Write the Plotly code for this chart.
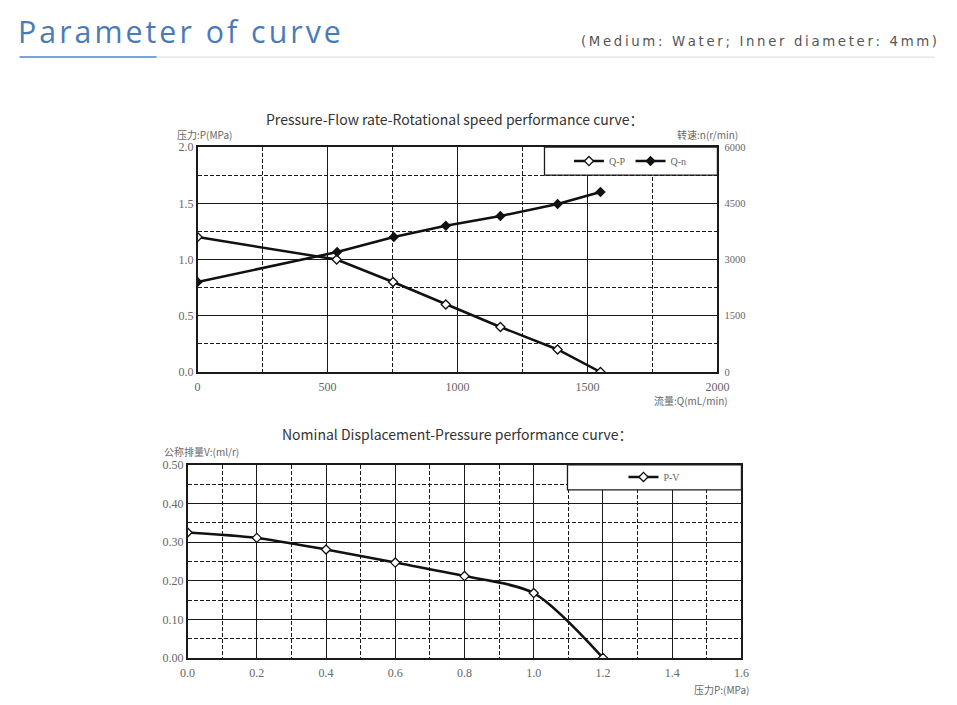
import plotly.graph_objects as go

# ---------------- data ----------------
flow_qp = [0, 535, 752, 955, 1165, 1385, 1550]
pressure_qp = [1.2, 1.0, 0.8, 0.6, 0.4, 0.2, 0.0]

flow_qn = [0, 537, 755, 955, 1165, 1385, 1550]
speed_qn = [2400, 3200, 3600, 3900, 4160, 4480, 4800]

pv_pressure = [0.0, 0.2, 0.4, 0.6, 0.8, 1.0, 1.2]
pv_disp = [0.325, 0.311, 0.281, 0.247, 0.212, 0.168, 0.0]

# page has an 8px body margin, so the figure is 941x689
OFF = 8
W, H = 957 - 2 * OFF, 705 - 2 * OFF
# the captured picture comes out slightly shrunk about its centre; compensate
S = 0.98
CX, CY = 478.5, 352.5
DX = 2


def px(x):
    local = CX + (x + DX - CX) / S - OFF
    return local / W


def py(y):
    local = CY + (y - CY) / S - OFF
    return 1 - local / H


GRID = "#1a1a1a"
DASH = "4px,2px"
TICK_FONT = dict(family="Liberation Serif", size=12, color="#666")
CJK = "Noto Sans CJK SC"

fig = go.Figure()

# top chart traces
fig.add_trace(go.Scatter(
    x=flow_qp, y=pressure_qp, name="Q-P", mode="lines+markers",
    line=dict(color="#111", width=2.5),
    marker=dict(symbol="diamond", size=7, color="white", line=dict(color="#111", width=1.3)),
    xaxis="x", yaxis="y", legend="legend"))
fig.add_trace(go.Scatter(
    x=flow_qn, y=speed_qn, name="Q-n", mode="lines+markers",
    line=dict(color="#111", width=2.5),
    marker=dict(symbol="diamond", size=8, color="#111"),
    xaxis="x", yaxis="y3", legend="legend"))

# bottom chart trace
fig.add_trace(go.Scatter(
    x=pv_pressure, y=pv_disp, name="P-V", mode="lines+markers",
    line=dict(color="#111", width=2.5, shape="spline", smoothing=0.8),
    marker=dict(symbol="diamond", size=7, color="white", line=dict(color="#111", width=1.3)),
    xaxis="x2", yaxis="y2", legend="legend2"))

common_axis = dict(showline=True, mirror=True, linecolor=GRID, linewidth=1.5,
                   showgrid=True, gridcolor=GRID, gridwidth=1.2, zeroline=False,
                   tickfont=TICK_FONT, fixedrange=True)
x_ticks = dict(ticks="outside", ticklen=3, tickcolor="rgba(0,0,0,0)")
y_ticks = dict(ticks="")
minor_grid = dict(showgrid=True, griddash=DASH, gridcolor=GRID, gridwidth=1, ticks="")

fig.update_layout(
    width=W, height=H,
    margin=dict(l=0, r=0, t=0, b=0),
    paper_bgcolor="white", plot_bgcolor="white",
    xaxis=dict(domain=[px(198), px(718)], range=[0, 2000], dtick=500, anchor="y",
               minor=dict(dtick=250, **minor_grid), **common_axis, **x_ticks),
    yaxis=dict(domain=[py(372), py(147)], range=[0, 2.0], dtick=0.5, tickformat=".1f", anchor="x",
               minor=dict(dtick=0.25, **minor_grid), **common_axis, **y_ticks),
    yaxis3=dict(overlaying="y", side="right", range=[0, 6000], dtick=1500, anchor="x",
                showgrid=False, zeroline=False, showline=False,
                ticks="outside", ticklen=4, tickcolor="rgba(0,0,0,0)",
                tickfont=dict(family="Liberation Serif", size=10.5, color="#666"), fixedrange=True),
    xaxis2=dict(domain=[px(188), px(742)], range=[0, 1.6], dtick=0.2, tickformat=".1f", anchor="y2",
                minor=dict(dtick=0.1, **minor_grid), **common_axis, **x_ticks),
    yaxis2=dict(domain=[py(658), py(465)], range=[0, 0.5], dtick=0.1, tickformat=".2f", anchor="x2",
                minor=dict(dtick=0.05, **minor_grid), **common_axis, **y_ticks),
    legend=dict(x=px(631), y=py(161), xanchor="center", yanchor="middle", orientation="h",
                bgcolor="rgba(0,0,0,0)", font=dict(family="Liberation Serif", size=10, color="#666"),
                itemwidth=30, tracegroupgap=0),
    legend2=dict(x=px(655), y=py(477), xanchor="center", yanchor="middle", orientation="h",
                 bgcolor="rgba(0,0,0,0)", font=dict(family="Liberation Serif", size=10, color="#666"),
                 itemwidth=30),
    showlegend=True,
)

# legend boxes (white panels over the grid)
fig.add_shape(type="rect", xref="paper", yref="paper", x0=px(545), x1=px(718), y0=py(175), y1=py(147),
              fillcolor="white", line=dict(color=GRID, width=1.3), layer="above")
fig.add_shape(type="rect", xref="paper", yref="paper", x0=px(568), x1=px(742), y0=py(490), y1=py(465),
              fillcolor="white", line=dict(color=GRID, width=1.3), layer="above")

# header underline
fig.add_shape(type="line", xref="paper", yref="paper", x0=px(157), x1=px(935), y0=py(57), y1=py(57),
              line=dict(color="#d9d9d9", width=1))
fig.add_shape(type="line", xref="paper", yref="paper", x0=px(20), x1=px(157), y0=py(57), y1=py(57),
              line=dict(color="#7ba3d3", width=2))

ann = []
title_txt = "\u200a".join("Parameter of curve")
ann.append(dict(text=title_txt, x=px(16), y=py(31), xanchor="left", yanchor="middle",
                font=dict(family="Open Sans", size=30.3, color="#4a7bb7")))
sub = "\u2009".join("(Medium: Water; Inner diameter: 4mm)")
ann.append(dict(text=sub, x=px(940), y=py(41), xanchor="right", yanchor="middle",
                font=dict(family="DejaVu Sans", size=13.3, color="#555")))
ann.append(dict(text="Pressure-Flow rate-Rotational speed performance curve：", x=px(455), y=py(119),
                xanchor="center", yanchor="middle",
                font=dict(family=CJK, size=14, color="#333")))
ann.append(dict(text="Nominal Displacement-Pressure performance curve：", x=px(457), y=py(434),
                xanchor="center", yanchor="middle",
                font=dict(family=CJK, size=14, color="#333")))
lbl_font = dict(family=CJK, size=10, color="#666")
ann.append(dict(text="压力:P(MPa)", x=px(175), y=py(134), xanchor="left", yanchor="middle", font=lbl_font))
ann.append(dict(text="转速:n(r/min)", x=px(741), y=py(134), xanchor="right", yanchor="middle", font=lbl_font))
ann.append(dict(text="流量:Q(mL/min)", x=px(731), y=py(401), xanchor="right", yanchor="middle", font=lbl_font))
ann.append(dict(text="公称排量V:(ml/r)", x=px(162), y=py(452), xanchor="left", yanchor="middle", font=lbl_font))
ann.append(dict(text="压力P:(MPa)", x=px(752), y=py(690), xanchor="right", yanchor="middle", font=lbl_font))
for a in ann:
    a.update(xref="paper", yref="paper", showarrow=False)
fig.update_layout(annotations=ann)

fig.write_html("out.html")
